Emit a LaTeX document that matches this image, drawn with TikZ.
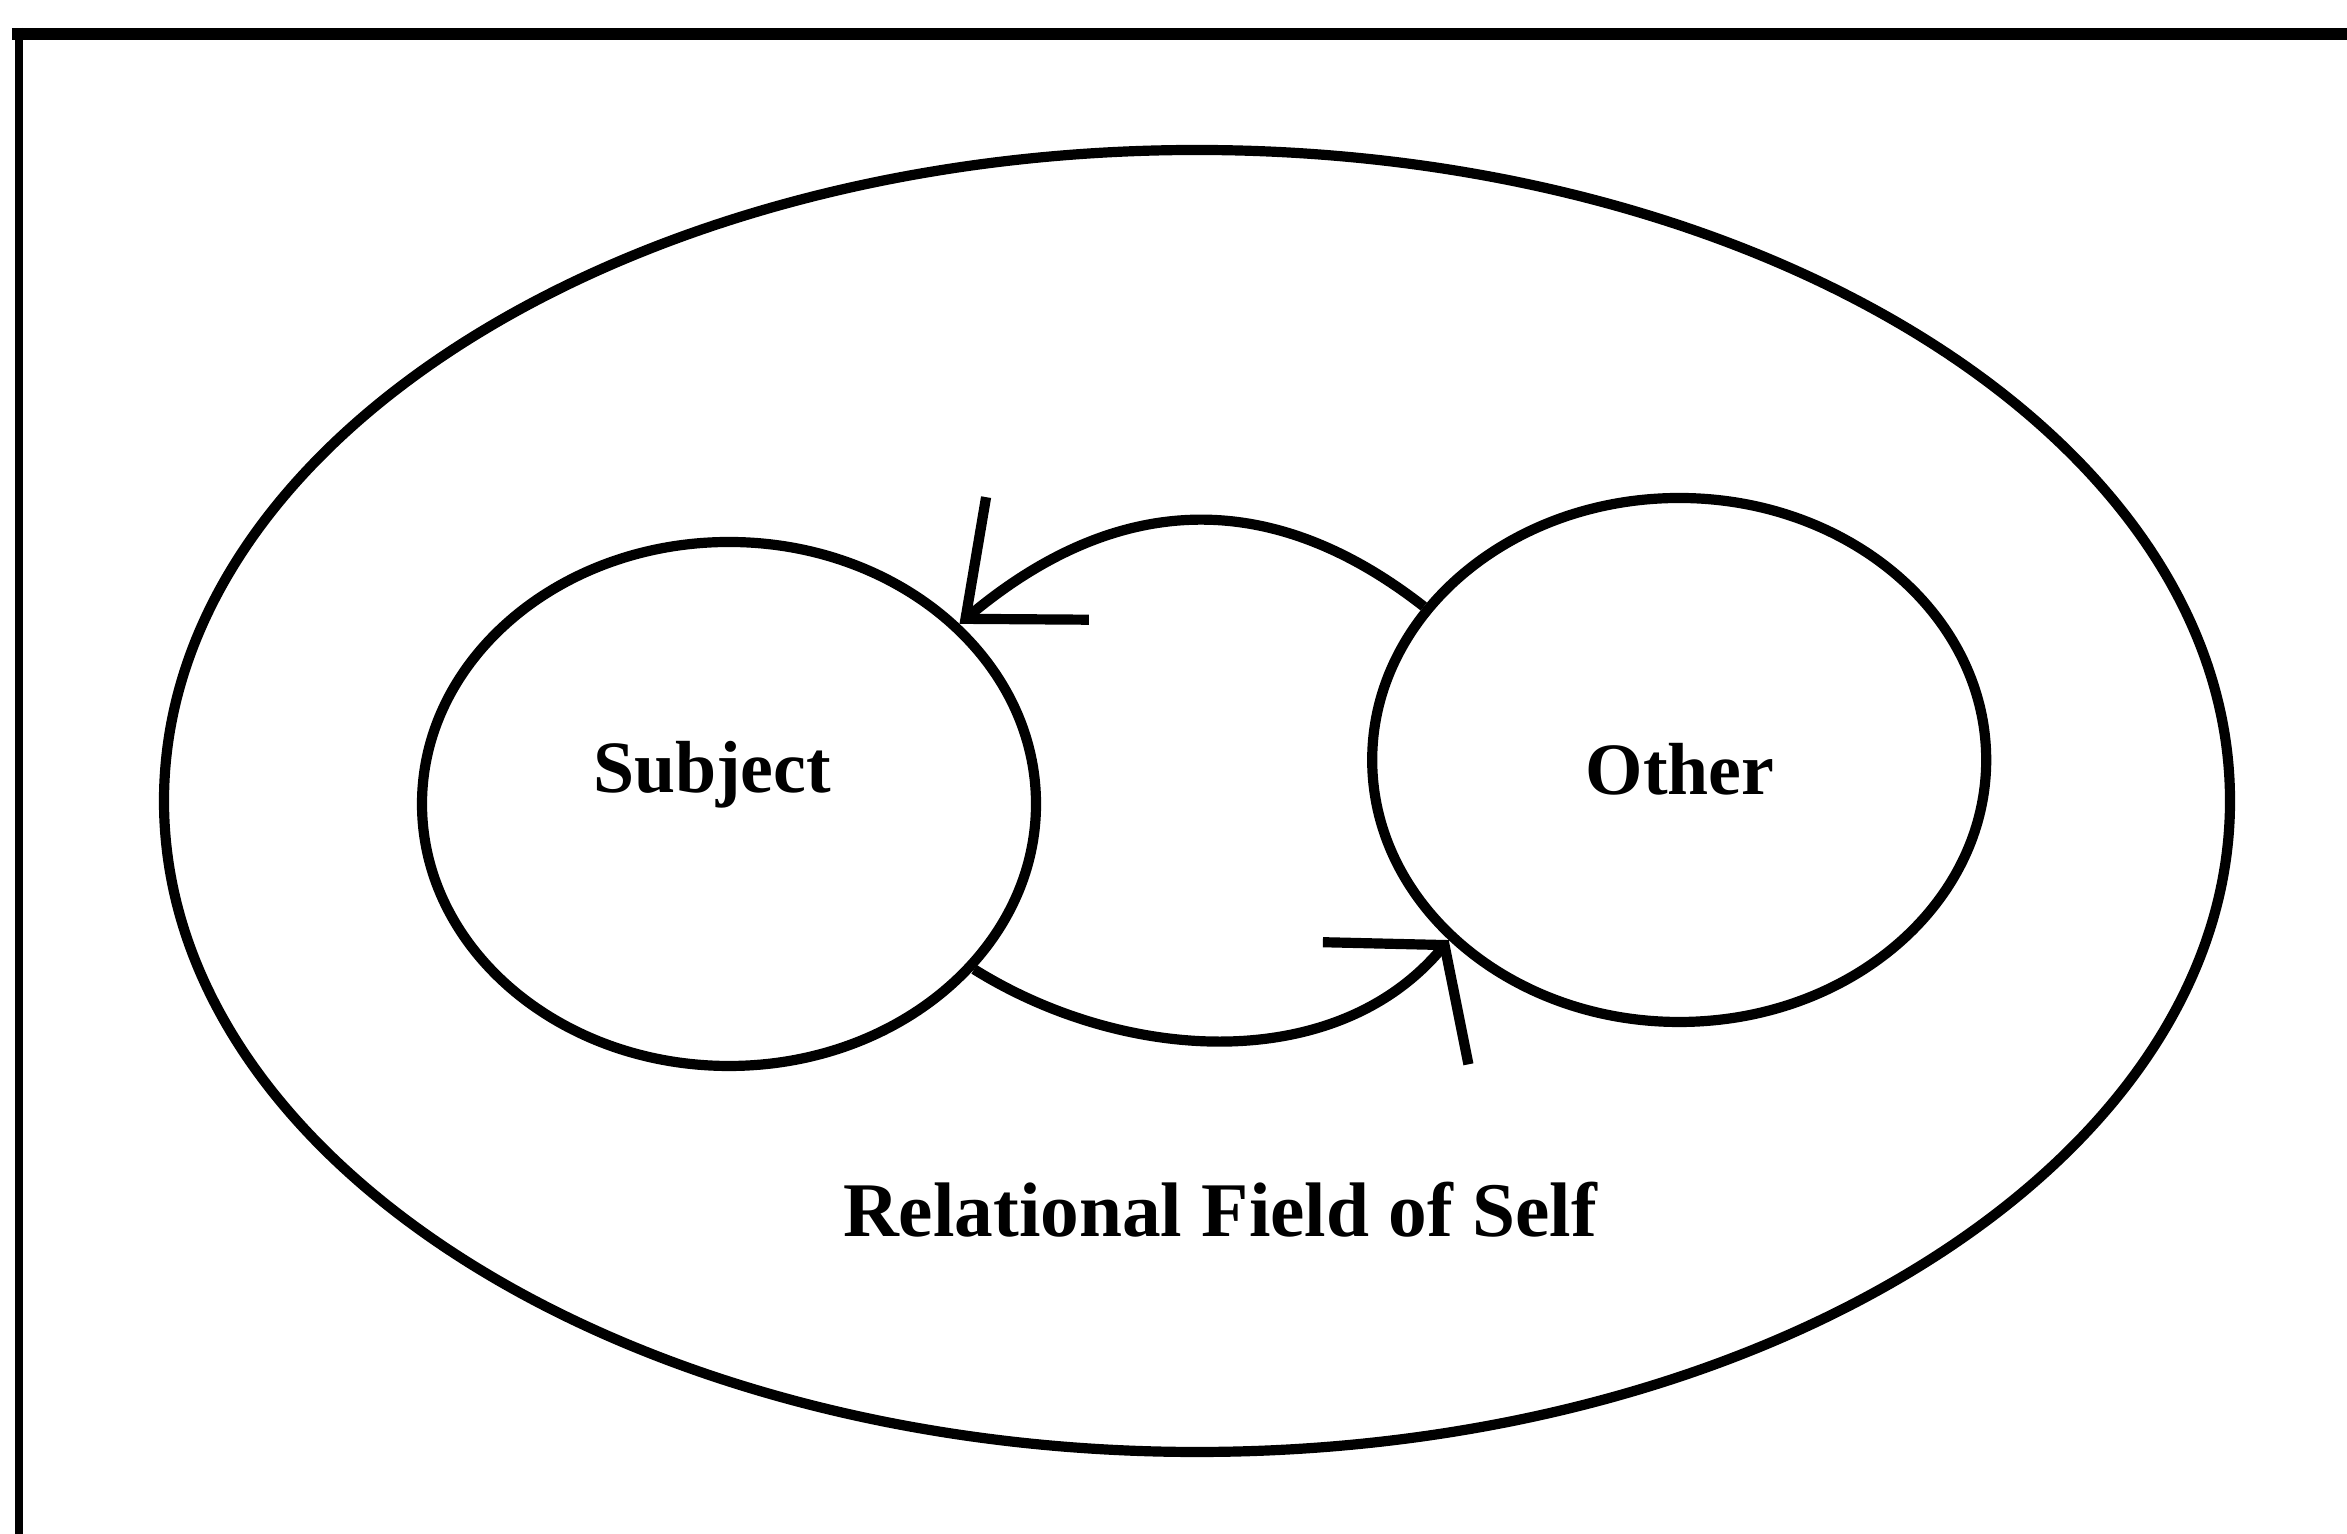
\documentclass[tikz,border=0pt]{standalone}
\usepackage{fontspec}
\setmainfont{Liberation Serif}
\usepackage{tikz}
\usetikzlibrary{arrows.meta,positioning,shapes.geometric}

\begin{document}
\begin{tikzpicture}[
  field/.style={draw,ellipse,line width=2.9pt,inner sep=0pt,
    minimum width=20.66cm,minimum height=13.02cm},
  party/.style={draw,ellipse,line width=2.9pt,inner sep=0pt,
    minimum width=6.14cm,minimum height=5.24cm},
  tag/.style={font=\fontsize{21}{25}\selectfont\bfseries,anchor=base,
    inner sep=0pt},
  pull/.style={line width=2.9pt,-{Straight Barb[length=9.4mm,width=16mm]}},
  push/.style={line width=2.9pt,-{Straight Barb[length=7.6mm,width=19mm]}},
  frame/.style={line width=3.4pt}]
\useasboundingbox (0,0) rectangle (23.47,15.34);
\draw[frame] (0.12,15.0) -- (23.47,15.0);
\draw[frame,line width=2.4pt] (0.19,15.06) -- (0.19,0);
\node[field] (field) at (11.97,7.33) {};
\node[party] (subject) at (7.29,7.30) {};
\node[party,right=3.26cm of subject,yshift=4.4mm] (other) {};
\node[tag] (subjecttag) at (7.12,7.41) {Subject};
\node[tag] (othertag) at (16.80,7.39) {Other};
\node[tag,font=\fontsize{22}{26}\selectfont\bfseries] (fieldtag) at (12.20,2.97)
  {Relational Field of Self};
\draw[pull] (other.149) to[out=142,in=40,looseness=1.1] (subject.38);
\draw[push] (subject.-34) to[out=-32,in=230,looseness=0.95] (other.218);
\end{tikzpicture}
\end{document}
